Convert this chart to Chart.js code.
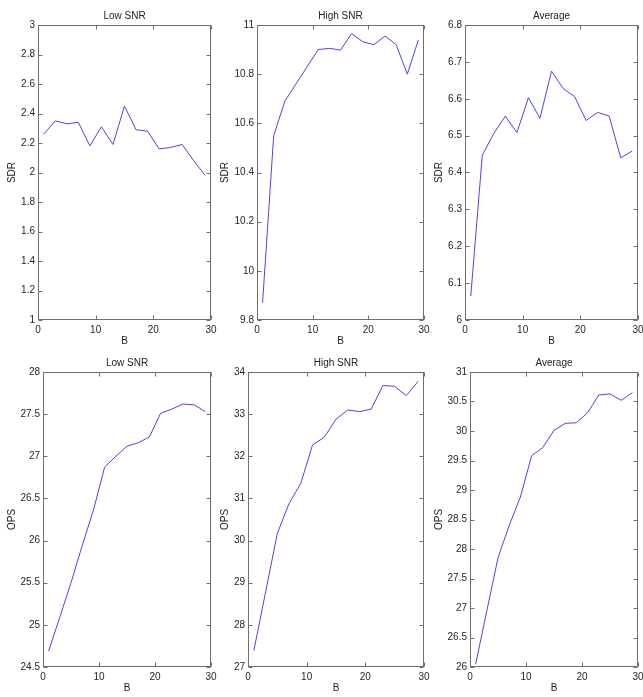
<!DOCTYPE html>
<html>
<head>
<meta charset="utf-8">
<script src="https://cdn.jsdelivr.net/npm/chart.js@4.4.1/dist/chart.umd.min.js"></script>
<style>
  html, body { margin: 0; padding: 0; background: #fff; }
  #wrap { position: relative; width: 643px; height: 697px; overflow: hidden; }
  #wrap canvas { position: absolute; }
</style>
</head>
<body>
<div id="wrap"></div>
<script>
// x values (B) shared by every panel
const B = [1, 3, 5, 7, 9, 11, 13, 15, 17, 19, 21, 23, 25, 27, 29]

// SDR
const sdrLow  = [2.26, 2.35, 2.33, 2.34, 2.18, 2.31, 2.19, 2.45, 2.29, 2.28, 2.16, 2.17, 2.19, 2.08, 1.98]
const sdrHigh = [9.87, 10.55, 10.69, 10.76, 10.83, 10.90, 10.905, 10.898, 10.965, 10.932, 10.92, 10.955, 10.92, 10.80, 10.94]
const sdrAvg  = [6.065, 6.447, 6.506, 6.553, 6.508, 6.603, 6.547, 6.675, 6.628, 6.606, 6.541, 6.563, 6.553, 6.44, 6.458]

// OPS
const opsLow  = [24.69, 25.09, 25.50, 25.94, 26.36, 26.87, 27.0, 27.12, 27.16, 27.23, 27.51, 27.56, 27.62, 27.61, 27.53]
const opsHigh = [27.39, 28.78, 30.17, 30.88, 31.36, 32.27, 32.45, 32.88, 33.10, 33.06, 33.12, 33.68, 33.66, 33.44, 33.78]
const opsAvg  = [26.045, 26.95, 27.85, 28.40, 28.88, 29.58, 29.72, 30.01, 30.13, 30.14, 30.31, 30.61, 30.63, 30.52, 30.65]

// tick labels
const bTicks       = [0, 10, 20, 30]
const sdrLowTicks  = [1, 1.2, 1.4, 1.6, 1.8, 2, 2.2, 2.4, 2.6, 2.8, 3]
const sdrHighTicks = [9.8, 10, 10.2, 10.4, 10.6, 10.8, 11]
const sdrAvgTicks  = [6, 6.1, 6.2, 6.3, 6.4, 6.5, 6.6, 6.7, 6.8]
const opsLowTicks  = [24.5, 25, 25.5, 26, 26.5, 27, 27.5, 28]
const opsHighTicks = [27, 28, 29, 30, 31, 32, 33, 34]
const opsAvgTicks  = [26, 26.5, 27, 27.5, 28, 28.5, 29, 29.5, 30, 30.5, 31]

const FONT = 'Liberation Sans, Arial, Helvetica, sans-serif'
const FRAME = '#6e6e6e'

// panel layout: plot box [left, top, right, bottom] and x of the y-title centre
const panels = [
  {y: sdrLow,  ticks: sdrLowTicks,  title: 'Low SNR',  ylab: 'SDR', box: [37.5, 24.5, 210.5, 319.5], ytx: 12},
  {y: sdrHigh, ticks: sdrHighTicks, title: 'High SNR', ylab: 'SDR', box: [256.7, 24.5, 423.7, 319.5], ytx: 225},
  {y: sdrAvg,  ticks: sdrAvgTicks,  title: 'Average',  ylab: 'SDR', box: [464.5, 24.5, 637.5, 319.5], ytx: 438.5},
  {y: opsLow,  ticks: opsLowTicks,  title: 'Low SNR',  ylab: 'OPS', box: [43, 372, 210.5, 666.5], ytx: 11.5},
  {y: opsHigh, ticks: opsHighTicks, title: 'High SNR', ylab: 'OPS', box: [248.3, 372, 424, 666.5], ytx: 225},
  {y: opsAvg,  ticks: opsAvgTicks,  title: 'Average',  ylab: 'OPS', box: [470, 372, 638, 666.5], ytx: 439},
]

// matlab style box with inward ticks on all four sides
const boxPlugin = {
  id: 'box',
  afterDatasetsDraw(chart) {
    const {ctx, chartArea: a, scales: {x, y}} = chart
    const L = Math.round(a.left) + 0.5, R = Math.round(a.right) - 0.5
    const T = Math.round(a.top) + 0.5, Bt = Math.round(a.bottom) - 0.5
    ctx.save()
    ctx.strokeStyle = FRAME
    ctx.lineWidth = 1
    ctx.beginPath()
    x.ticks.forEach(t => {
      const px = Math.round(x.getPixelForValue(t.value)) + 0.5
      ctx.moveTo(px, Bt); ctx.lineTo(px, Bt - 4)
      ctx.moveTo(px, T); ctx.lineTo(px, T + 4)
    })
    y.ticks.forEach(t => {
      const py = Math.round(y.getPixelForValue(t.value)) + 0.5
      ctx.moveTo(L, py); ctx.lineTo(L + 4, py)
      ctx.moveTo(R, py); ctx.lineTo(R - 4, py)
    })
    ctx.stroke()
    ctx.strokeRect(L, T, R - L, Bt - T)
    ctx.restore()
  }
}

const wrap = document.getElementById('wrap')

panels.forEach(p => {
  const [l, t, r, b] = p.box
  const cl = Math.round(p.ytx - 6)
  const ct = Math.round(t) - 25
  const yW = Math.round(l) - cl
  const xH = 27
  const w = Math.round(r) - cl + 12
  const h = Math.round(b) + xH - ct

  const canvas = document.createElement('canvas')
  canvas.width = w
  canvas.height = h
  canvas.style.left = cl + 'px'
  canvas.style.top = ct + 'px'
  wrap.appendChild(canvas)

  new Chart(canvas, {
    type: 'line',
    data: {
      datasets: [{
        data: B.map((v, i) => ({x: v, y: p.y[i]})),
        borderColor: 'rgb(70, 70, 235)',
        borderWidth: 1,
        pointRadius: 0,
        tension: 0,
        fill: false,
      }]
    },
    options: {
      responsive: false,
      animation: false,
      devicePixelRatio: 1,
      layout: {padding: {top: 0, left: 0, bottom: 0, right: 12}},
      plugins: {
        legend: {display: false},
        tooltip: {enabled: false},
        title: {
          display: true,
          text: p.title,
          fullSize: false,
          color: '#222',
          font: {family: FONT, size: 10, weight: 'normal'},
          padding: {top: 10, bottom: 3},
        },
      },
      scales: {
        x: {
          type: 'linear',
          min: 0, max: 30,
          afterBuildTicks: s => { s.ticks = bTicks.map(v => ({value: v})) },
          afterFit: s => { s.height = xH },
          grid: {display: false, drawTicks: false},
          border: {display: false},
          ticks: {color: '#262626', font: {family: FONT, size: 10}, padding: 4, maxRotation: 0, callback: v => String(v)},
          title: {display: true, text: 'B', color: '#222', font: {family: FONT, size: 10}, padding: 0},
        },
        y: {
          type: 'linear',
          min: p.ticks[0], max: p.ticks[p.ticks.length - 1],
          afterBuildTicks: s => { s.ticks = p.ticks.map(v => ({value: v})) },
          afterFit: s => { s.width = yW },
          grid: {display: false, drawTicks: false},
          border: {display: false},
          ticks: {color: '#262626', font: {family: FONT, size: 10}, padding: 3, callback: v => String(v)},
          title: {display: true, text: p.ylab, color: '#222', font: {family: FONT, size: 10}, padding: 0},
        }
      }
    },
    plugins: [boxPlugin]
  })
})
</script>
</body>
</html>
